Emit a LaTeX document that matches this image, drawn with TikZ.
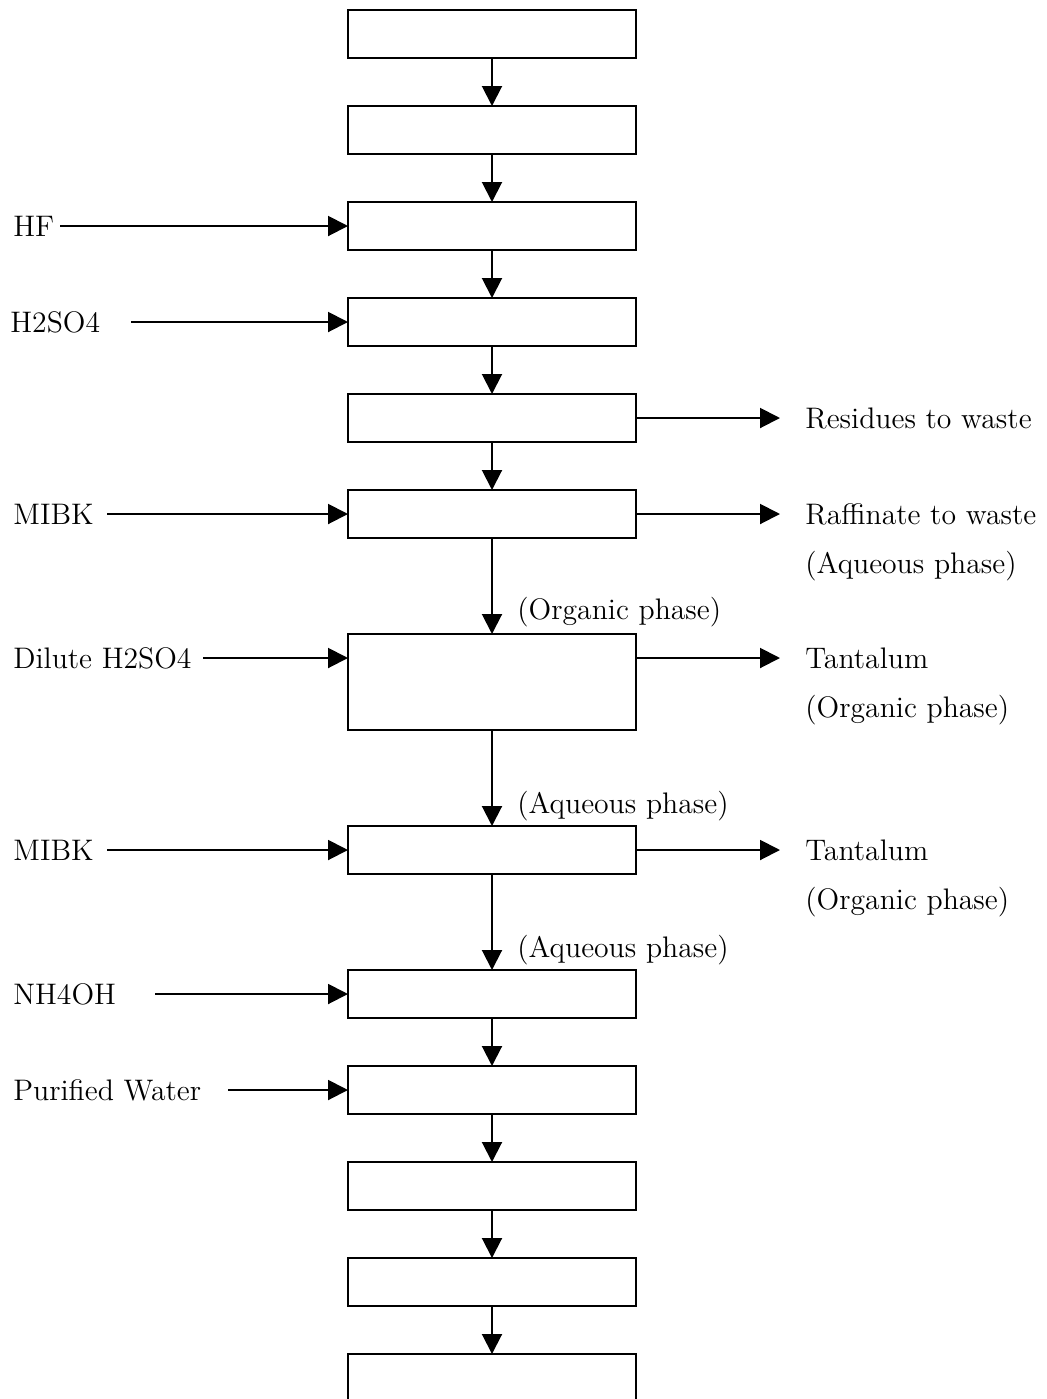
\documentclass[tikz,border=0pt]{standalone}
\usetikzlibrary{arrows.meta}
\begin{document}
\begin{tikzpicture}[x=0.5pt,y=-0.5pt,
  stepbox/.style={draw,line width=1pt,minimum width=144pt,minimum height=24pt,inner sep=0pt,outer sep=0pt},
  tallbox/.style={stepbox,minimum height=48pt},
  lbl/.style={inner sep=0pt,anchor=west,font=\fontsize{14.85}{18}\selectfont},
  arr/.style={line width=1pt,-{Triangle[length=10pt,width=10pt]}}]
\useasboundingbox (0,0) rectangle (1046,1399);
\clip (0,0) rectangle (1046,1399);
% boxes
\node[stepbox] (b1) at (492,34) {};
\node[stepbox] (b2) at (492,130) {};
\node[stepbox] (b3) at (492,226) {};
\node[stepbox] (b4) at (492,322) {};
\node[stepbox] (b5) at (492,418) {};
\node[stepbox] (b6) at (492,514) {};
\node[tallbox] (b7) at (492,682) {};
\node[stepbox] (b8) at (492,850) {};
\node[stepbox] (b9) at (492,994) {};
\node[stepbox] (b10) at (492,1090) {};
\node[stepbox] (b11) at (492,1186) {};
\node[stepbox] (b12) at (492,1282) {};
\node[stepbox] (b13) at (492,1378) {};
% vertical flow
\draw[arr] (b1) -- (b2);
\draw[arr] (b2) -- (b3);
\draw[arr] (b3) -- (b4);
\draw[arr] (b4) -- (b5);
\draw[arr] (b5) -- (b6);
\draw[arr] (b6) -- (b7);
\draw[arr] (b7) -- (b8);
\draw[arr] (b8) -- (b9);
\draw[arr] (b9) -- (b10);
\draw[arr] (b10) -- (b11);
\draw[arr] (b11) -- (b12);
\draw[arr] (b12) -- (b13);
% phase labels on the flow
\node[lbl] (p7) at (517,612) {(Organic phase)};
\node[lbl] (p8) at (517,806) {(Aqueous phase)};
\node[lbl] (p9) at (517,950) {(Aqueous phase)};
% left inputs
\node[lbl] (hf) at (13,226) {HF};
\coordinate (hfs) at (60,226);
\draw[arr] (hfs) -- (b3.west);
\node[lbl] (hs) at (10,322) {H2SO4};
\coordinate (hss) at (131,322);
\draw[arr] (hss) -- (b4.west);
\node[lbl] (mk1) at (13,514) {MIBK};
\coordinate (mk1s) at (107,514);
\draw[arr] (mk1s) -- (b6.west);
\node[lbl] (dh) at (13,658) {Dilute H2SO4};
\coordinate (dhs) at (203,658);
\draw[arr] (dhs) -- (dhs -| b7.west);
\node[lbl] (mk2) at (13,850) {MIBK};
\coordinate (mk2s) at (107,850);
\draw[arr] (mk2s) -- (b8.west);
\node[lbl] (nh) at (13,994) {NH4OH};
\coordinate (nhs) at (155,994);
\draw[arr] (nhs) -- (b9.west);
\node[lbl] (pw) at (13,1090) {Purified Water};
\coordinate (pws) at (228,1090);
\draw[arr] (pws) -- (b10.west);
% right outputs
\coordinate (r5) at (780,418);
\draw[arr] (b5.east) -- (r5);
\node[lbl] (t5) at (805,418) {Residues to waste};
\coordinate (r6) at (780,514);
\draw[arr] (b6.east) -- (r6);
\node[lbl] (t6) at (805,514) {Raffinate to waste};
\node[lbl] (t6b) at (805,566) {(Aqueous phase)};
\coordinate (r7) at (780,658);
\draw[arr] (r7 -| b7.east) -- (r7);
\node[lbl] (t7) at (805,658) {Tantalum};
\node[lbl] (t7b) at (805,710) {(Organic phase)};
\coordinate (r8) at (780,850);
\draw[arr] (b8.east) -- (r8);
\node[lbl] (t8) at (805,850) {Tantalum};
\node[lbl] (t8b) at (805,902) {(Organic phase)};
\end{tikzpicture}
\end{document}
